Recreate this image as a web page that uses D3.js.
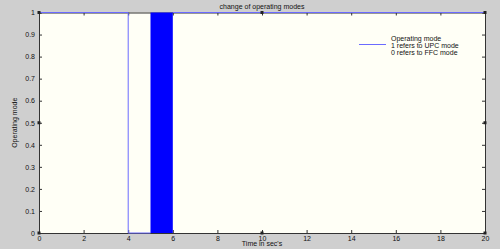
<!DOCTYPE html>
<html>
<head>
<meta charset="utf-8">
<script src="https://cdn.jsdelivr.net/npm/d3@7"></script>
<style>
  body { margin: 0; background: #cfcfcf; }
  svg { display: block; }
  text { font-family: "Liberation Sans", Arial, sans-serif; fill: #111; }
</style>
</head>
<body>
<svg id="viz"></svg>
<script>
// step signal: operating mode vs time (1 = UPC, 0 = FFC)
var stepTimes = [0, 4, 4, 5];
var stepModes = [1, 1, 0, 0];
// fast switching between modes, drawn as a band
var chatterStart = [5];
var chatterEnd = [6];
var chatterMode = [0, 1];
// after switching settles
var settleTimes = [6, 20];
var settleModes = [1, 1];

var xTicks = [0, 2, 4, 6, 8, 10, 12, 14, 16, 18, 20];
var yTicks = [0, 0.1, 0.2, 0.3, 0.4, 0.5, 0.6, 0.7, 0.8, 0.9, 1];
var legendLines = ['Operating mode', '1 refers to UPC mode', '0 refers to FFC mode'];

var width = 500, height = 249;
var margin = { top: 12.5, right: 15, bottom: 16, left: 39 };

var svg = d3.select('#viz').attr('width', width).attr('height', height);

svg.append('rect')
  .attr('width', width).attr('height', height)
  .attr('fill', '#cfcfcf');

var x = d3.scaleLinear().domain([0, 20]).range([margin.left, width - margin.right]);
var y = d3.scaleLinear().domain([0, 1]).range([height - margin.bottom, margin.top]);

// plot area
svg.append('rect')
  .attr('x', x(0)).attr('y', y(1))
  .attr('width', x(20) - x(0)).attr('height', y(0) - y(1))
  .attr('fill', '#fffff6');

var axisColor = '#333';

// axes with inward ticks on every side
var gBottom = svg.append('g').attr('transform', 'translate(0,' + y(0) + ')')
  .call(d3.axisBottom(x).tickValues(xTicks).tickSizeInner(-3).tickSizeOuter(0).tickPadding(4).tickFormat(d3.format('d')));
var gTop = svg.append('g').attr('transform', 'translate(0,' + y(1) + ')')
  .call(d3.axisTop(x).tickValues(xTicks).tickSizeInner(-3).tickSizeOuter(0).tickFormat(''));
var gLeft = svg.append('g').attr('transform', 'translate(' + x(0) + ',0)')
  .call(d3.axisLeft(y).tickValues(yTicks).tickSizeInner(-3).tickSizeOuter(0).tickPadding(4).tickFormat(d3.format('')));
var gRight = svg.append('g').attr('transform', 'translate(' + x(20) + ',0)')
  .call(d3.axisRight(y).tickValues(yTicks).tickSizeInner(-3).tickSizeOuter(0).tickFormat(''));

[gBottom, gTop, gLeft, gRight].forEach(function (g) {
  g.selectAll('path, line').attr('stroke', axisColor).attr('stroke-width', 1);
  g.selectAll('text').style('font-size', '7px').attr('fill', '#111')
    .style('font-family', '"Liberation Sans", Arial, sans-serif');
});
gBottom.selectAll('text').attr('dy', '0.5em');

// signal
var blue = '#0000ff';
var line = d3.line().x(function (d) { return x(d[0]); }).y(function (d) { return y(d[1]); });

svg.append('path')
  .datum(stepTimes.map(function (t, i) { return [t, stepModes[i]]; }))
  .attr('d', line).attr('fill', 'none').attr('stroke', '#6b6bff').attr('stroke-width', 1);

svg.append('path')
  .datum(settleTimes.map(function (t, i) { return [t, settleModes[i]]; }))
  .attr('d', line).attr('fill', 'none').attr('stroke', '#6b6bff').attr('stroke-width', 1);

svg.selectAll('rect.chatter')
  .data(chatterStart)
  .join('rect')
  .attr('class', 'chatter')
  .attr('x', function (d) { return x(d); })
  .attr('y', y(chatterMode[1]))
  .attr('width', function (d, i) { return x(chatterEnd[i]) - x(d); })
  .attr('height', y(chatterMode[0]) - y(chatterMode[1]))
  .attr('fill', blue);

// small handle squares at corners and midpoints
var handles = [[0, 0], [0, 0.5], [0, 1], [10, 0], [10, 1], [20, 0], [20, 0.5], [20, 1]];
svg.selectAll('rect.handle')
  .data(handles)
  .join('rect')
  .attr('class', 'handle')
  .attr('x', function (d) { return x(d[0]) - 1.5; })
  .attr('y', function (d) { return y(d[1]) - 1.5; })
  .attr('width', 3).attr('height', 3)
  .attr('fill', '#222');

// title and axis labels
svg.append('text')
  .attr('x', (x(0) + x(20)) / 2).attr('y', 9)
  .attr('text-anchor', 'middle')
  .style('font-size', '7px')
  .text('change of operating modes');

svg.append('text')
  .attr('x', (x(0) + x(20)) / 2).attr('y', 246)
  .attr('text-anchor', 'middle')
  .style('font-size', '7px')
  .text("Time in sec's");

svg.append('text')
  .attr('transform', 'translate(17,' + y(0.5) + ') rotate(-90)')
  .attr('text-anchor', 'middle')
  .style('font-size', '7px')
  .text('Operating mode');

// legend
svg.append('line')
  .attr('x1', 359).attr('x2', 386).attr('y1', 44.5).attr('y2', 44.5)
  .attr('stroke', '#6b6bff').attr('stroke-width', 1);

svg.selectAll('text.legend')
  .data(legendLines)
  .join('text')
  .attr('class', 'legend')
  .attr('x', 391)
  .attr('y', function (d, i) { return 40.5 + i * 7; })
  .style('font-size', '7px')
  .text(function (d) { return d; });
</script>
</body>
</html>
